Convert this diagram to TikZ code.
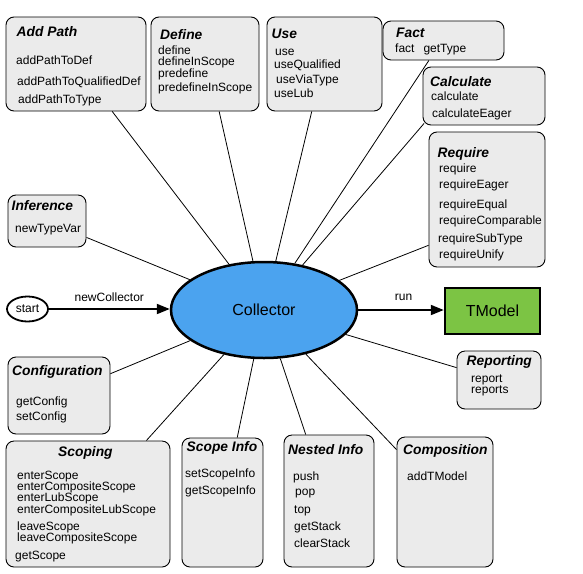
\documentclass[tikz,border=0pt]{standalone}
\usepackage{fontspec}
\setmainfont{Liberation Sans}
\usetikzlibrary{arrows.meta,calc,fit,shapes.geometric}
\definecolor{boxgray}{HTML}{EBEBEB}
\definecolor{collblue}{HTML}{4BA3EF}
\definecolor{tmgreen}{HTML}{7CC444}
\begin{document}
\begin{tikzpicture}[x=1pt,y=-1pt,
  grp/.style={draw=black, line width=0.9pt, fill=boxgray, rounded corners=8pt, inner sep=0pt},
  ttl/.style={anchor=base west, inner sep=0pt, font=\fontsize{13.8}{16}\selectfont\bfseries\itshape},
  itm/.style={anchor=base west, inner sep=0pt, font=\fontsize{12}{14}\selectfont},
  link/.style={draw=black, line width=0.8pt},
  flow/.style={draw=black, line width=2pt, -{Triangle[length=13pt,width=10pt]}},
  lbl/.style={anchor=base, inner sep=0pt, font=\fontsize{12}{14}\selectfont}]
\useasboundingbox[fill=white] (0,0) rectangle (583,573);

% ---------- central nodes ----------
\node[ellipse, draw=black, line width=2.5pt, fill=collblue, minimum width=186pt, minimum height=96pt,
      inner sep=0pt, font=\fontsize{16}{19}\selectfont] (coll) at (264,310) {Collector};
\node[ellipse, draw=black, line width=1.8pt, fill=white, minimum width=41pt, minimum height=25pt,
      inner sep=0pt, font=\fontsize{12}{14}\selectfont] (start) at (27.5,309) {start};
\node[rectangle, draw=black, line width=2.5pt, fill=tmgreen, minimum width=95pt, minimum height=46pt,
      inner sep=0pt, font=\fontsize{16}{19}\selectfont] (tm) at (492.5,311) {TModel};

% ---------- group boxes ----------
\node[grp, fit={(6,17) (146,111)}] (ap) {};
\node[grp, fit={(151,17) (259,111)}] (df) {};
\node[grp, fit={(267,17) (382,111)}] (us) {};
\node[grp, fit={(383,21) (504,60)}] (fa) {};
\node[grp, fit={(423,67) (545,125)}] (ca) {};
\node[grp, fit={(429,132) (545,267)}] (rq) {};
\node[grp, fit={(8,195) (86,247)}] (inf) {};
\node[grp, fit={(8,357) (110,434)}] (cf) {};
\node[grp, fit={(457,351) (541,409)}] (rp) {};
\node[grp, fit={(6,441) (170,567)}] (sc) {};
\node[grp, fit={(182,438) (263,567)}] (si) {};
\node[grp, fit={(284,435) (374,567)}] (ni) {};
\node[grp, fit={(397,437) (493,567)}] (co) {};

% ---------- texts ----------
\node[ttl] (apT) at (16.5,36) {Add Path};
\node[itm] (ap1) at (16,64) {addPathToDef};
\node[itm] (ap2) at (17,85) {addPathToQualifiedDef};
\node[itm] (ap3) at (18,103) {addPathToType};

\node[ttl] (dfT) at (160,39) {Define};
\node[itm] (df1) at (158,54.5) {define};
\node[itm] (df2) at (158,65.5) {defineInScope};
\node[itm] (df3) at (158,77) {predefine};
\node[itm] (df4) at (158,91) {predefineInScope};

\node[ttl] (usT) at (271.5,38) {Use};
\node[itm] (us1) at (275,55) {use};
\node[itm] (us2) at (274,68.5) {useQualified};
\node[itm] (us3) at (276,83) {useViaType};
\node[itm] (us4) at (274,97.5) {useLub};

\node[ttl] (faT) at (396,37.5) {Fact};
\node[itm] (fa1) at (395,52) {fact\hspace{9pt}getType};

\node[ttl] (caT) at (430,86) {Calculate};
\node[itm] (ca1) at (431,100) {calculate};
\node[itm] (ca2) at (432,117) {calculateEager};

\node[ttl] (rqT) at (437.5,157) {Require};
\node[itm] (rq1) at (439,172.5) {require};
\node[itm] (rq2) at (439,188.5) {requireEager};
\node[itm] (rq3) at (439,208) {requireEqual};
\node[itm] (rq4) at (439,224.5) {requireComparable};
\node[itm] (rq5) at (438,242) {requireSubType};
\node[itm] (rq6) at (439,258.5) {requireUnify};

\node[ttl] (infT) at (11.5,210) {Inference};
\node[itm] (inf1) at (15,232) {newTypeVar};

\node[ttl] (cfT) at (12,375) {Configuration};
\node[itm] (cf1) at (16,405) {getConfig};
\node[itm] (cf2) at (16,420) {setConfig};

\node[ttl] (rpT) at (466.5,365.5) {Reporting};
\node[itm] (rp1) at (471,382) {report};
\node[itm] (rp2) at (471,393.5) {reports};

\node[ttl] (scT) at (58,456.5) {Scoping};
\node[itm] (sc1) at (17,479) {enterScope};
\node[itm] (sc2) at (17,490) {enterCompositeScope};
\node[itm] (sc3) at (17,501.5) {enterLubScope};
\node[itm] (sc4) at (17,513) {enterCompositeLubScope};
\node[itm] (sc5) at (17,530.5) {leaveScope};
\node[itm] (sc6) at (17,541) {leaveCompositeScope};
\node[itm] (sc7) at (15,559.5) {getScope};

\node[ttl] (siT) at (186.5,451) {Scope Info};
\node[itm] (si1) at (185,477) {setScopeInfo};
\node[itm] (si2) at (185,494) {getScopeInfo};

\node[ttl] (niT) at (288,454.5) {Nested Info};
\node[itm] (ni1) at (293,480) {push};
\node[itm] (ni2) at (295,495.5) {pop};
\node[itm] (ni3) at (294,513) {top};
\node[itm] (ni4) at (294,530) {getStack};
\node[itm] (ni5) at (294,547.5) {clearStack};

\node[ttl] (coT) at (403,454.5) {Composition};
\node[itm] (co1) at (407,480) {addTModel};

% ---------- arrows ----------
\draw[flow] (start.east) -- node[lbl, pos=0.5, yshift=8pt] (ncl) {newCollector} (coll.west |- start.east);
\draw[flow] (coll.east) -- node[lbl, pos=0.53, yshift=10pt] (runl) {run} (coll.east -| tm.west);

% ---------- connectors (aimed at the centre of Collector) ----------
\draw[link] ($(ap.south west)!0.757!(ap.south east)$) -- (coll);
\draw[link] ($(df.south west)!0.63!(df.south east)$) -- (coll);
\draw[link] ($(us.south west)!0.39!(us.south east)$) -- (coll);
\draw[link] ($(fa.south west)!0.38!(fa.south east)$) -- (coll);
\draw[link] ($(ca.south west)+(1.5,-2)$) -- (coll);
\draw[link] ($(rq.north west)!0.837!(rq.south west)$) -- (coll);
\draw[link] ($(inf.north east)!0.81!(inf.south east)$) -- (coll);
\draw[link] ($(cf.north east)!0.22!(cf.south east)$) -- (coll);
\draw[link] ($(sc.north west)!0.854!(sc.north east)$) -- (coll);
\draw[link] ($(si.north west)!0.68!(si.north east)$) -- (coll);
\draw[link] ($(ni.north west)!0.244!(ni.north east)$) -- (coll);
\draw[link] ($(co.north west)!0.1!(co.south west)$) -- (coll);
\draw[link] ($(rp.north west)!0.29!(rp.south west)$) -- (coll);
\end{tikzpicture}
\end{document}
